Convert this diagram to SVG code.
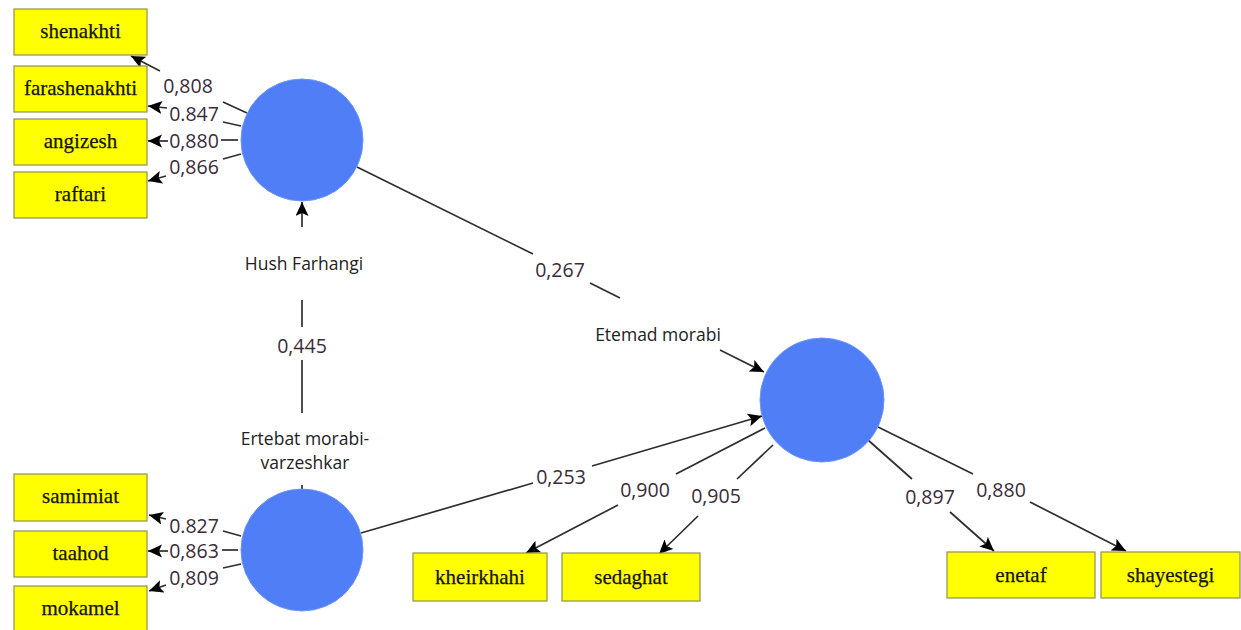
<svg xmlns="http://www.w3.org/2000/svg" width="1241" height="630" viewBox="0 0 1241 630">
<style>
.box{fill:#ffff00;stroke:#8f9150;stroke-width:1.2}
.bt{font-family:"Liberation Serif",serif;font-size:21px;fill:#141408;text-anchor:middle;stroke:#141408;stroke-width:0.25}
.lv{fill:#4f7ef6;stroke:#6d93f5;stroke-width:1}
.ln{stroke:#2e2e2e;stroke-width:1.7;fill:none}
.num{font-family:"Open Sans","Liberation Sans",sans-serif;font-size:19.5px;fill:#3a2b3a;text-anchor:middle}
.nm{font-family:"Open Sans","Liberation Sans",sans-serif;font-size:17.5px;fill:#222;text-anchor:middle}
</style>
<defs>
<marker id="ah" markerUnits="userSpaceOnUse" markerWidth="16" markerHeight="14" refX="14" refY="6.5" orient="auto">
<path d="M0,0 L14,6.5 L0,13 L3,6.5 z" fill="#000"/>
</marker>
</defs>
<rect width="1241" height="630" fill="#fff"/>

<g id="connectors">
<line class="ln" x1="247" y1="113" x2="223" y2="102"/>
<line class="ln" x1="160" y1="71" x2="131" y2="56" marker-end="url(#ah)"/>
<line class="ln" x1="241" y1="126" x2="223" y2="122"/>
<line class="ln" x1="167" y1="108" x2="148" y2="106" marker-end="url(#ah)"/>
<line class="ln" x1="238" y1="140" x2="221" y2="140"/>
<line class="ln" x1="168" y1="141" x2="148" y2="141" marker-end="url(#ah)"/>
<line class="ln" x1="241" y1="154" x2="223" y2="159"/>
<line class="ln" x1="166" y1="176" x2="148" y2="181" marker-end="url(#ah)"/>
<line class="ln" x1="241" y1="536" x2="223" y2="531"/>
<line class="ln" x1="166" y1="519" x2="149" y2="515" marker-end="url(#ah)"/>
<line class="ln" x1="238" y1="550" x2="222" y2="550"/>
<line class="ln" x1="168" y1="551" x2="148" y2="551" marker-end="url(#ah)"/>
<line class="ln" x1="241" y1="564" x2="223" y2="568"/>
<line class="ln" x1="166" y1="585" x2="149" y2="591" marker-end="url(#ah)"/>
<line class="ln" x1="302" y1="489" x2="302" y2="485"/>
<line class="ln" x1="302" y1="413" x2="302" y2="360"/>
<line class="ln" x1="302" y1="327" x2="302" y2="300"/>
<line class="ln" x1="302" y1="227" x2="302" y2="202" marker-end="url(#ah)"/>
<line class="ln" x1="357" y1="167" x2="533" y2="254"/>
<line class="ln" x1="590" y1="283" x2="620" y2="298"/>
<line class="ln" x1="720" y1="350" x2="764" y2="372" marker-end="url(#ah)"/>
<line class="ln" x1="361" y1="533" x2="533" y2="483"/>
<line class="ln" x1="592" y1="466" x2="762" y2="416" marker-end="url(#ah)"/>
<line class="ln" x1="765" y1="428" x2="676" y2="474"/>
<line class="ln" x1="618" y1="505" x2="526" y2="553" marker-end="url(#ah)"/>
<line class="ln" x1="773" y1="445" x2="737" y2="479"/>
<line class="ln" x1="698" y1="516" x2="659" y2="554" marker-end="url(#ah)"/>
<line class="ln" x1="868" y1="440" x2="912" y2="479"/>
<line class="ln" x1="950" y1="512" x2="994" y2="551" marker-end="url(#ah)"/>
<line class="ln" x1="878" y1="427" x2="973" y2="474"/>
<line class="ln" x1="1030" y1="502" x2="1126" y2="551" marker-end="url(#ah)"/>
</g>

<g id="labels">
<text class="num" x="188" y="93">0,808</text>
<text class="num" x="194" y="121">0.847</text>
<text class="num" x="194" y="148">0,880</text>
<text class="num" x="194" y="174">0,866</text>
<text class="num" x="194" y="533">0.827</text>
<text class="num" x="194" y="558">0,863</text>
<text class="num" x="194" y="585">0,809</text>
<text class="num" x="302" y="353">0,445</text>
<text class="num" x="560" y="277">0,267</text>
<text class="num" x="561" y="484">0,253</text>
<text class="num" x="645" y="497">0,900</text>
<text class="num" x="716" y="503">0,905</text>
<text class="num" x="930" y="504">0,897</text>
<text class="num" x="1001" y="497">0,880</text>
</g>

<g id="hush-farhangi">
<circle class="lv" cx="302" cy="140" r="61"/>
<text class="nm" x="304" y="270">Hush Farhangi</text>
</g>
<g id="ertebat">
<circle class="lv" cx="302" cy="550" r="61"/>
<text class="nm" x="305" y="445">Ertebat morabi-</text>
<text class="nm" x="305" y="469">varzeshkar</text>
</g>
<g id="etemad">
<circle class="lv" cx="822" cy="400" r="62"/>
<text class="nm" x="658" y="341">Etemad morabi</text>
</g>

<g id="shenakhti"><rect class="box" x="14" y="9" width="133" height="46"/><text class="bt" x="80.5" y="38">shenakhti</text></g>
<g id="farashenakhti"><rect class="box" x="14" y="66" width="133" height="46"/><text class="bt" x="80.5" y="95">farashenakhti</text></g>
<g id="angizesh"><rect class="box" x="14" y="119" width="133" height="46"/><text class="bt" x="80.5" y="148">angizesh</text></g>
<g id="raftari"><rect class="box" x="14" y="172" width="133" height="46"/><text class="bt" x="80.5" y="201">raftari</text></g>
<g id="samimiat"><rect class="box" x="14" y="474" width="133" height="47"/><text class="bt" x="80.5" y="503">samimiat</text></g>
<g id="taahod"><rect class="box" x="14" y="531" width="133" height="46"/><text class="bt" x="80.5" y="560">taahod</text></g>
<g id="mokamel"><rect class="box" x="14" y="586" width="133" height="46"/><text class="bt" x="80.5" y="615">mokamel</text></g>
<g id="kheirkhahi"><rect class="box" x="413" y="553" width="134" height="48"/><text class="bt" x="480" y="584">kheirkhahi</text></g>
<g id="sedaghat"><rect class="box" x="562" y="553" width="138" height="48"/><text class="bt" x="631" y="584">sedaghat</text></g>
<g id="enetaf"><rect class="box" x="947" y="552" width="148" height="46"/><text class="bt" x="1021" y="582">enetaf</text></g>
<g id="shayestegi"><rect class="box" x="1101" y="552" width="139" height="46"/><text class="bt" x="1170.5" y="582">shayestegi</text></g>
</svg>
